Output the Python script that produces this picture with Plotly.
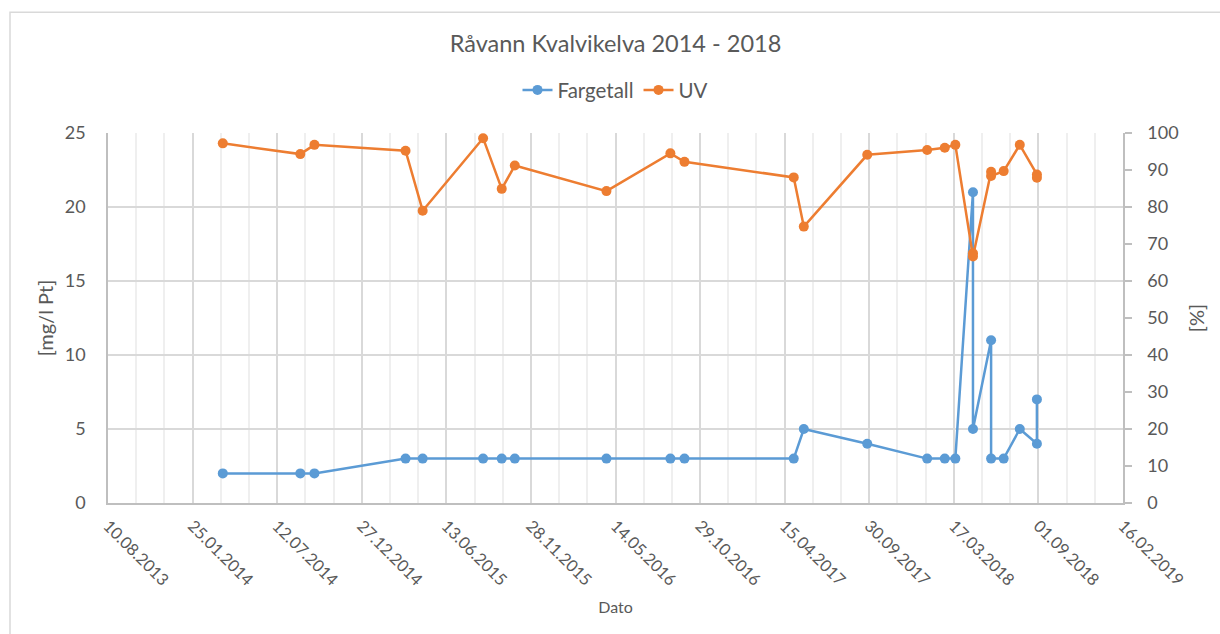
import pandas as pd
import plotly.graph_objects as go

# Sampling dates (same dates for both series)
dates = [
    "2014-03-26", "2014-08-27", "2014-09-24", "2015-03-24", "2015-04-27",
    "2015-08-25", "2015-10-01", "2015-10-27", "2016-04-26", "2016-08-31",
    "2016-09-28", "2017-05-03", "2017-05-23", "2017-09-26", "2018-01-23",
    "2018-02-27", "2018-03-20", "2018-04-24", "2018-04-24", "2018-05-30",
    "2018-05-30", "2018-06-24", "2018-07-26", "2018-08-29", "2018-08-29",
]

# Fargetall [mg/l Pt]
fargetall = [2, 2, 2, 3, 3, 3, 3, 3, 3, 3, 3, 3, 5, 4, 3, 3, 3, 21, 5, 11, 3, 3, 5, 4, 7]

# UV [%]
uv = [97.2, 94.3, 96.8, 95.2, 79.0, 98.6, 84.9, 91.2, 84.3, 94.5, 92.2, 88.0, 74.7,
      94.1, 95.4, 96.0, 96.8, 67.5, 66.6, 89.5, 88.4, 89.7, 96.8, 88.8, 87.9]

# Date axis: major unit 168 days, minor unit 56 days
x_start, x_end = "2013-08-10", "2019-02-16"
major_vals = pd.date_range(x_start, x_end, freq="168D")
minor_vals = pd.date_range(x_start, x_end, freq="56D")

BLUE = "#5B9BD5"
ORANGE = "#ED7D31"
TXT = "#595959"
GRID = "#D9D9D9"
FONT = "Lato"

fig = go.Figure()
fig.add_trace(go.Scatter(
    x=dates, y=fargetall, name="Fargetall", mode="lines+markers",
    line=dict(color=BLUE, width=2.5), marker=dict(color=BLUE, size=10),
))
fig.add_trace(go.Scatter(
    x=dates, y=uv, name="UV", mode="lines+markers", yaxis="y2",
    line=dict(color=ORANGE, width=2.5), marker=dict(color=ORANGE, size=10),
))

L, R, T, B = 108, 97, 133, 130.5
W, H = 1220, 634
pw = W - L - R
ph = H - T - B

fig.update_layout(
    width=W, height=H,
    margin=dict(l=L, r=R, t=T, b=B),
    paper_bgcolor="white", plot_bgcolor="white",
    font=dict(family=FONT, color=TXT, size=18),
    title=dict(text="Råvann Kvalvikelva 2014 - 2018", x=0.5, xref="paper", xanchor="center",
               y=1 - 44 / H, yref="container", yanchor="middle",
               font=dict(size=23.5, color=TXT, family=FONT)),
    legend=dict(orientation="h", x=0.5, xanchor="center", y=(H - B - 90) / ph, yanchor="middle",
                font=dict(size=20.5, color=TXT), tracegroupgap=0,
                bgcolor="rgba(0,0,0,0)"),
    showlegend=True,
    xaxis=dict(
        type="date",
        range=[x_start, x_end],
        tickmode="array", tickvals=major_vals,
        ticktext=[d.strftime("%d.%m.%Y") for d in major_vals],
        tickangle=45,
        tickfont=dict(size=16.5, color=TXT),
        ticklabelstandoff=5,
        showgrid=True, gridcolor=GRID, gridwidth=1.5,
        minor=dict(tickmode="array", tickvals=minor_vals, showgrid=True,
                   gridcolor="#EFEFEF", gridwidth=1.5),
        showline=True, linecolor="#BFBFBF", linewidth=1.5,
        ticks="", zeroline=False,
        title=dict(text="Dato", font=dict(size=16, color=TXT), standoff=13),
    ),
    yaxis=dict(
        range=[0, 25], dtick=5, tick0=0,
        showgrid=True, gridcolor=GRID, gridwidth=1.5,
        showline=True, linecolor="#BFBFBF", linewidth=1.5,
        ticks="", zeroline=False,
        tickfont=dict(size=18, color=TXT), ticklabelstandoff=17,
        title=dict(text="[mg/l Pt]", font=dict(size=20, color=TXT), standoff=6),
    ),
    yaxis2=dict(
        range=[0, 100], dtick=10, tick0=0,
        overlaying="y", side="right",
        showgrid=False, zeroline=False,
        showline=True, linecolor="#BFBFBF", linewidth=1.5,
        ticks="outside", ticklen=7, tickcolor="#BFBFBF", tickwidth=1.5,
        tickfont=dict(size=18, color=TXT), ticklabelstandoff=12,
        title=dict(text="[%]", font=dict(size=20, color=TXT), standoff=12),
    ),
)

# Chart frame
fig.add_shape(
    type="rect", xref="paper", yref="paper", layer="below",
    x0=(10 - L) / pw, x1=(W + 5 - L) / pw,
    y0=(H - B - (H + 5)) / ph, y1=(H - B - 12) / ph,
    line=dict(color=GRID, width=1.5), fillcolor="rgba(0,0,0,0)",
)

fig.write_html("out.html")
